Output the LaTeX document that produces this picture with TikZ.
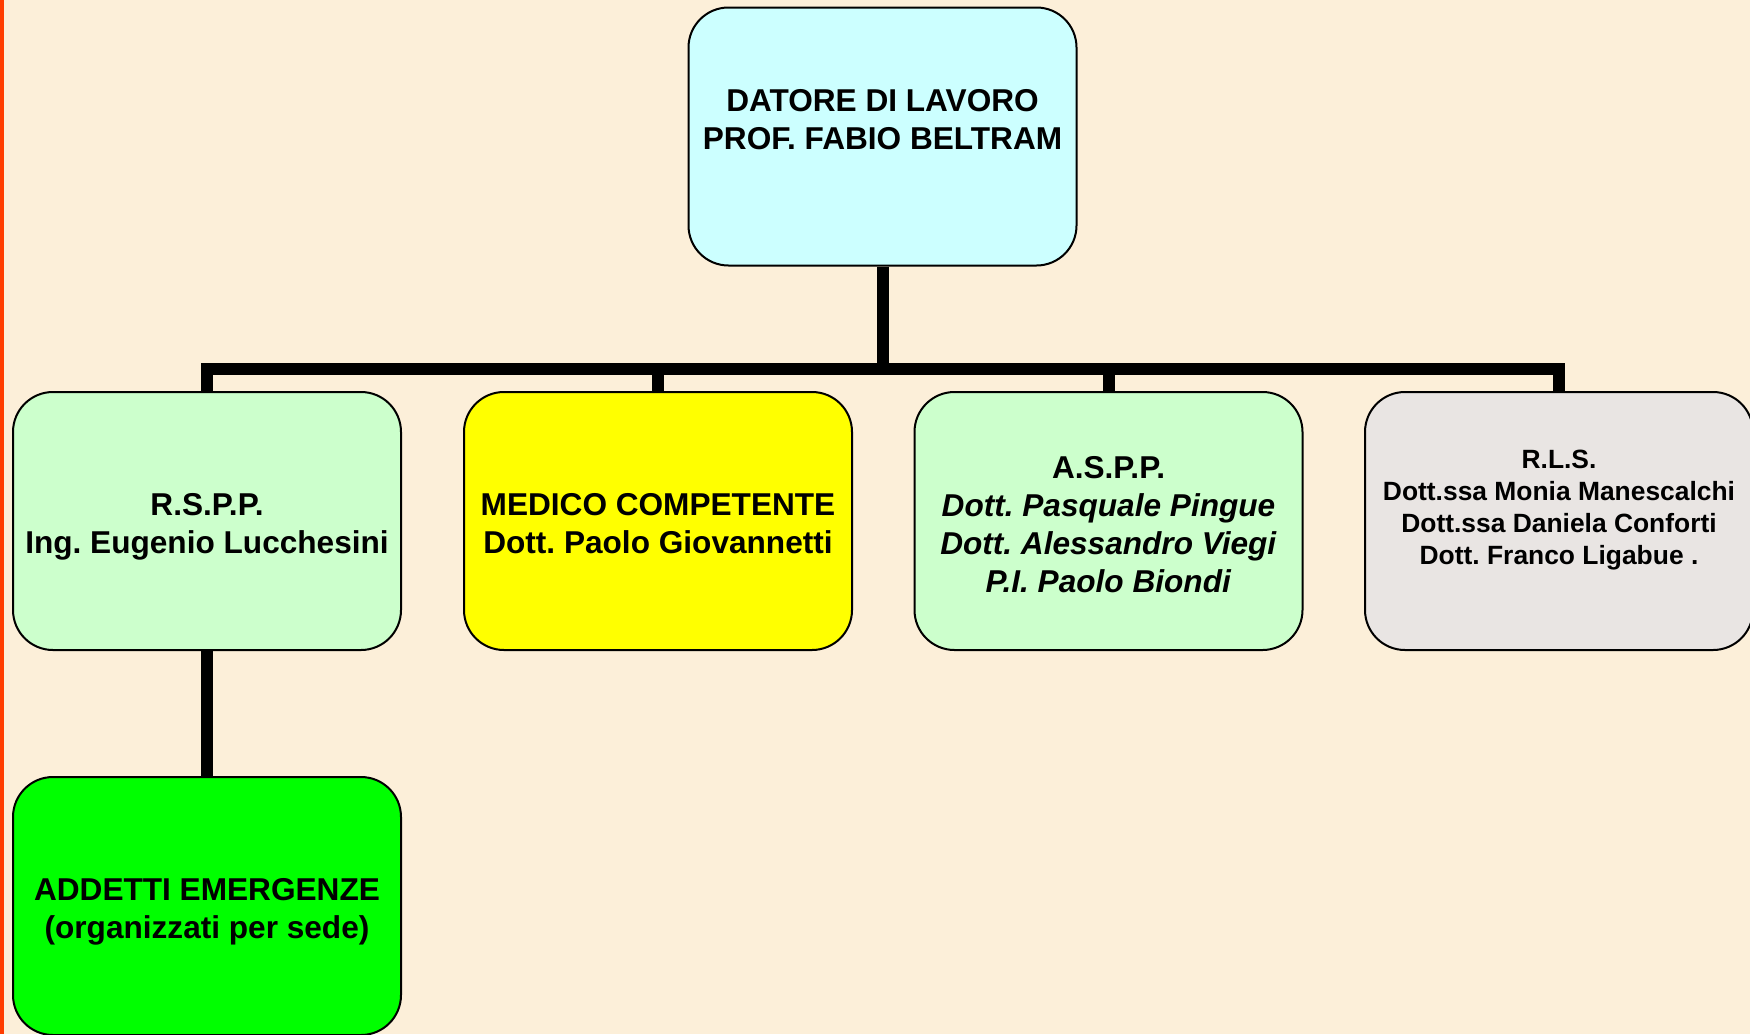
\documentclass[tikz,border=0pt]{standalone}
\usepackage{fontspec}
\setmainfont{Liberation Sans}
\frenchspacing
\definecolor{bgc}{HTML}{FCEFD9}
\definecolor{redbar}{HTML}{FF3C00}
\definecolor{cyanbox}{HTML}{CCFFFF}
\definecolor{lgreen}{HTML}{CCFFCC}
\definecolor{ybox}{HTML}{FFFF00}
\definecolor{gbox}{HTML}{E9E5E3}
\definecolor{brightgreen}{HTML}{00FF00}
\tikzset{
  orgbox/.style={draw=black, line width=1pt, rounded corners=20pt,
    minimum width=194pt, minimum height=129pt, inner sep=0pt},
  txt/.style={align=center, inner sep=0pt, font=\bfseries\fontsize{15.8}{19}\selectfont},
  smalltxt/.style={align=center, inner sep=0pt, font=\bfseries\fontsize{13.2}{15.9}\selectfont},
  conn/.style={line width=6pt, line join=miter, line cap=butt}
}
\begin{document}
\begin{tikzpicture}[x=0.5pt, y=-0.5pt]
\useasboundingbox (0,0) rectangle (1750,1034);
\clip (0,0) rectangle (1750,1034);
\fill[bgc] (0,0) rectangle (1750,1034);
\fill[redbar] (0,0) rectangle (4,1034);

\node[orgbox, fill=cyanbox] (datore) at (882.5,136.5) {};
\node[txt] (datoretxt) at (882.5,120) {DATORE DI LAVORO\\PROF. FABIO BELTRAM};

\node[orgbox, fill=lgreen] (rspp) at (207,521) {};
\node[txt] (rspptxt) at (207,527) {R.S.P.P.\\Ing. Eugenio Lucchesini};

\node[orgbox, fill=ybox] (medico) at (658,521) {};
\node[txt] (medicotxt) at (658,523.5) {MEDICO COMPETENTE\\Dott. Paolo Giovannetti};

\node[orgbox, fill=lgreen] (aspp) at (1108.5,521) {};
\node[txt] (aspptxt) at (1108.5,524.5) {A.S.P.P.\\\textit{Dott. Pasquale Pingue}\\\textit{Dott. Alessandro Viegi}\\\textit{P.I. Paolo Biondi}};

\node[orgbox, fill=gbox] (rls) at (1559,521) {};
\node[smalltxt] (rlstxt) at (1559,510) {R.L.S.\\Dott.ssa Monia Manescalchi\\Dott.ssa Daniela Conforti\\Dott. Franco Ligabue .};

\node[orgbox, fill=brightgreen] (addetti) at (207,906) {};
\node[txt] (addettitxt) at (207,912) {ADDETTI EMERGENZE\\(organizzati per sede)};

\coordinate (bar) at (883,369);
\draw[conn] (rspp.north) -- (rspp.north |- bar) -- (rls.north |- bar) -- (rls.north);
\draw[conn] (datore.south) -- (datore.south |- bar);
\draw[conn] (medico.north) -- (medico.north |- bar);
\draw[conn] (aspp.north) -- (aspp.north |- bar);
\draw[conn] (rspp.south) -- (addetti.north);
\end{tikzpicture}
\end{document}
